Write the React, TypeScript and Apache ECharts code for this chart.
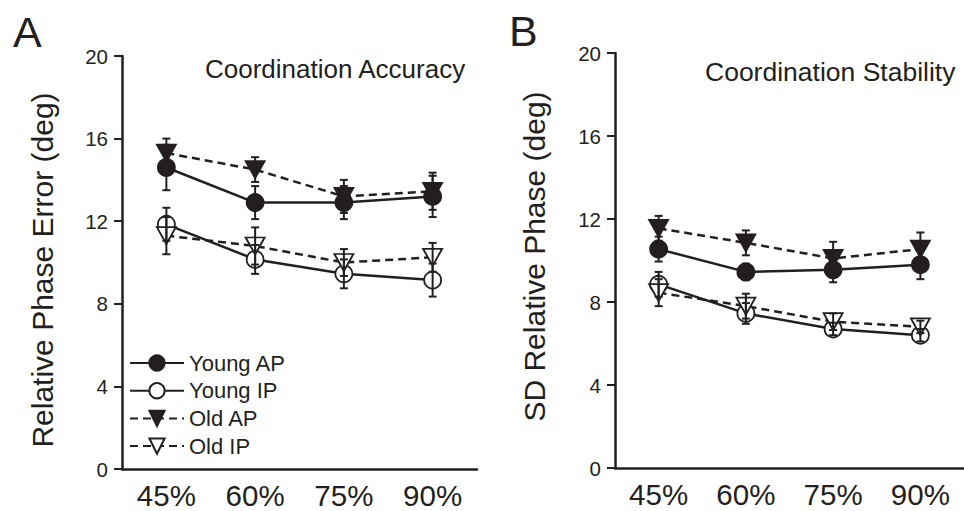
import React, { useEffect, useRef } from "react";
import * as echarts from "echarts";

const categories = ["45%", "60%", "75%", "90%"];
const yTicks = [0, 4, 8, 12, 16, 20];

// Panel A: Relative phase error
const youngAP_A = [14.6, 12.9, 12.9, 13.2];
const youngAP_A_err = [1.1, 0.8, 0.8, 1.0];
const youngIP_A = [11.85, 10.15, 9.45, 9.15];
const youngIP_A_err = [0.8, 0.7, 0.7, 0.8];
const oldAP_A = [15.3, 14.5, 13.2, 13.45];
const oldAP_A_err = [0.7, 0.6, 0.8, 0.9];
const oldIP_A = [11.3, 10.8, 10.0, 10.25];
const oldIP_A_err = [0.9, 0.9, 0.65, 0.7];

// Panel B: SD relative phase
const youngAP_B = [10.55, 9.45, 9.55, 9.8];
const youngAP_B_err = [0.6, 0.4, 0.6, 0.7];
const youngIP_B = [8.85, 7.45, 6.7, 6.4];
const youngIP_B_err = [0.6, 0.5, 0.3, 0.3];
const oldAP_B = [11.55, 10.85, 10.1, 10.55];
const oldAP_B_err = [0.6, 0.6, 0.8, 0.8];
const oldIP_B = [8.45, 7.8, 7.05, 6.8];
const oldIP_B_err = [0.65, 0.6, 0.4, 0.3];

const INK = "#231f20";
const FONT = "Liberation Sans, Arial, Helvetica, sans-serif";

type Kind = "youngAP" | "youngIP" | "oldAP" | "oldIP";
const NAMES: Record<Kind, string> = {
  youngAP: "Young AP",
  youngIP: "Young IP",
  oldAP: "Old AP",
  oldIP: "Old IP",
};

function lineSeries(kind: Kind, idx: number, values: number[]) {
  const isOld = kind === "oldAP" || kind === "oldIP";
  const filled = kind === "youngAP" || kind === "oldAP";
  return {
    type: "line",
    name: NAMES[kind],
    xAxisIndex: idx,
    yAxisIndex: idx,
    data: values,
    symbol: isOld ? "triangle" : "circle",
    symbolRotate: isOld ? 180 : 0,
    symbolSize: isOld ? [19, 17] : 17,
    z: 3,
    lineStyle: { color: INK, width: 2.5, type: isOld ? [8, 5] : "solid" },
    itemStyle: {
      color: filled ? INK : "#ffffff",
      borderColor: INK,
      borderWidth: 1.8,
    },
  };
}

function errSeries(idx: number, values: number[], errs: number[]) {
  return {
    type: "custom",
    xAxisIndex: idx,
    yAxisIndex: idx,
    z: 5,
    silent: true,
    encode: { x: 0, y: 1 },
    data: values.map((v, i) => [i, v, errs[i]]),
    renderItem: (params: any, api: any) => {
      const x = api.value(0);
      const v = api.value(1);
      const e = api.value(2);
      const top = api.coord([x, v + e]);
      const bot = api.coord([x, v - e]);
      const hw = 4;
      const st = { stroke: INK, lineWidth: 2 };
      return {
        type: "group",
        children: [
          { type: "line", shape: { x1: top[0], y1: top[1], x2: bot[0], y2: bot[1] }, style: st },
          { type: "line", shape: { x1: top[0] - hw, y1: top[1], x2: top[0] + hw, y2: top[1] }, style: st },
          { type: "line", shape: { x1: bot[0] - hw, y1: bot[1], x2: bot[0] + hw, y2: bot[1] }, style: st },
        ],
      };
    },
  };
}

function xAxis(idx: number) {
  return {
    type: "category",
    gridIndex: idx,
    data: categories,
    boundaryGap: true,
    axisLine: { lineStyle: { color: INK, width: 2.5 } },
    axisTick: { alignWithLabel: true, length: 8, lineStyle: { color: INK, width: 2 } },
    axisLabel: { color: INK, fontSize: 29.5, fontFamily: FONT, margin: 11 },
    splitLine: { show: false },
  };
}

function yAxis(idx: number) {
  return {
    type: "value",
    gridIndex: idx,
    min: 0,
    max: 20,
    interval: 4,
    axisLine: { show: true, lineStyle: { color: INK, width: 2.5 } },
    axisTick: { show: true, length: 8, lineStyle: { color: INK, width: 2 } },
    axisLabel: {
      color: INK,
      fontSize: 20.5,
      fontFamily: FONT,
      margin: 14,
      formatter: (v: number) => (yTicks.includes(v) ? String(v) : ""),
    },
    splitLine: { show: false },
  };
}

export default function App() {
  const ref = useRef<HTMLDivElement>(null);
  useEffect(() => {
    if (!ref.current) return;
    const chart = echarts.init(ref.current, undefined, { renderer: "svg" });
    chart.setOption({
      animation: false,
      backgroundColor: "#ffffff",
      textStyle: { fontFamily: FONT },
      grid: [
        { left: 122, top: 56, width: 355, height: 413 },
        { left: 615, top: 53, width: 355, height: 415 },
      ],
      xAxis: [xAxis(0), xAxis(1)],
      yAxis: [yAxis(0), yAxis(1)],
      legend: {
        orient: "vertical",
        left: 129,
        top: 352,
        padding: 0,
        itemWidth: 54,
        itemHeight: 19,
        itemGap: 5.7,
        data: ["Young AP", "Young IP", "Old AP", "Old IP"],
        textStyle: { color: INK, fontSize: 22, fontFamily: FONT },
        selectedMode: false,
      },
      graphic: [
        { type: "text", left: 13, top: 10, style: { text: "A", fontSize: 43, fontFamily: FONT, fill: INK } },
        { type: "text", left: 509, top: 9, style: { text: "B", fontSize: 43, fontFamily: FONT, fill: INK } },
        { type: "text", left: 205, top: 56, style: { text: "Coordination Accuracy", fontSize: 26, fontFamily: FONT, fill: INK } },
        { type: "text", left: 705, top: 58, style: { text: "Coordination Stability", fontSize: 26.5, fontFamily: FONT, fill: INK } },
        {
          type: "text",
          x: 42.5,
          y: 270,
          rotation: Math.PI / 2,
          style: {
            text: "Relative Phase Error (deg)",
            fontSize: 30,
            fontFamily: FONT,
            fill: INK,
            align: "center",
            verticalAlign: "middle",
          },
        },
        {
          type: "text",
          x: 534,
          y: 256.5,
          rotation: Math.PI / 2,
          style: {
            text: "SD Relative Phase (deg)",
            fontSize: 30,
            fontFamily: FONT,
            fill: INK,
            align: "center",
            verticalAlign: "middle",
          },
        },
      ],
      series: [
        lineSeries("youngAP", 0, youngAP_A),
        lineSeries("youngIP", 0, youngIP_A),
        lineSeries("oldAP", 0, oldAP_A),
        lineSeries("oldIP", 0, oldIP_A),
        errSeries(0, youngAP_A, youngAP_A_err),
        errSeries(0, youngIP_A, youngIP_A_err),
        errSeries(0, oldAP_A, oldAP_A_err),
        errSeries(0, oldIP_A, oldIP_A_err),
        lineSeries("youngAP", 1, youngAP_B),
        lineSeries("youngIP", 1, youngIP_B),
        lineSeries("oldAP", 1, oldAP_B),
        lineSeries("oldIP", 1, oldIP_B),
        errSeries(1, youngAP_B, youngAP_B_err),
        errSeries(1, youngIP_B, youngIP_B_err),
        errSeries(1, oldAP_B, oldAP_B_err),
        errSeries(1, oldIP_B, oldIP_B_err),
      ],
    });
    return () => chart.dispose();
  }, []);
  return (
    <div
      ref={ref}
      style={{ position: "fixed", left: 0, top: 0, width: 964, height: 511 }}
    />
  );
}
